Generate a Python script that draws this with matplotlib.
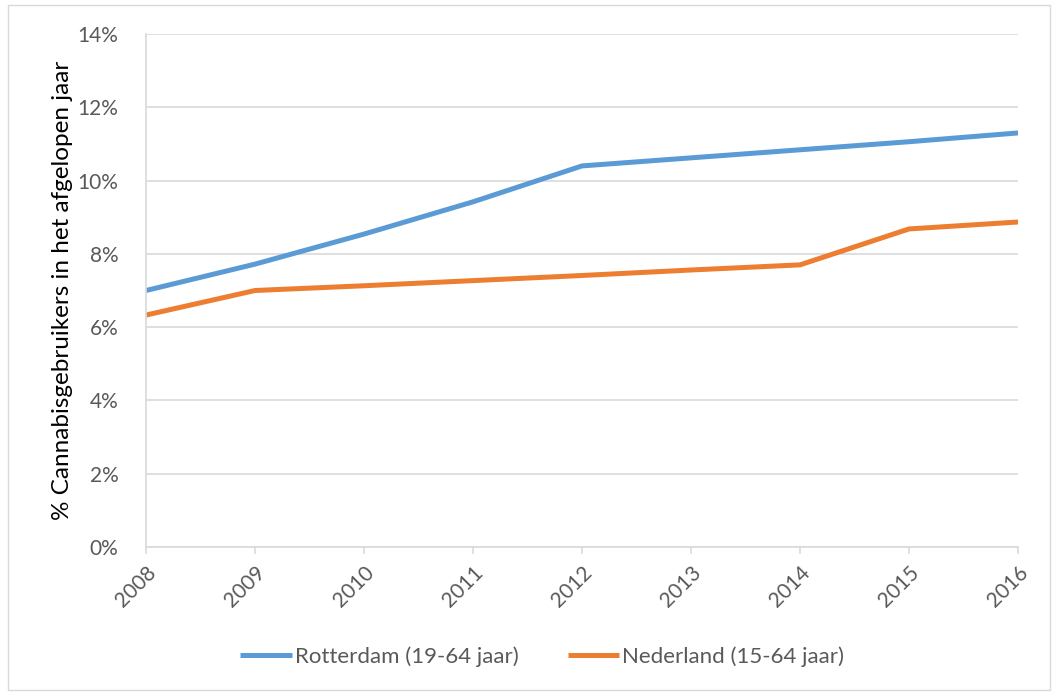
import matplotlib
matplotlib.use('Agg')
import matplotlib.pyplot as plt
from matplotlib.patches import Rectangle

plt.rcParams['font.family'] = ['Lato', 'DejaVu Sans']

years = ['2008', '2009', '2010', '2011', '2012', '2013', '2014', '2015', '2016']
rotterdam = [7.0, 7.72, 8.54, 9.42, 10.40, 10.62, 10.84, 11.06, 11.30]
nederland = [6.33, 7.0, 7.13, 7.27, 7.41, 7.56, 7.70, 8.68, 8.87]

grey_text = '#595959'
grid_col = '#d9d9d9'

fig = plt.figure(figsize=(10.59, 6.95), dpi=100)
ax = fig.add_axes([0.1379, 0.2129, 0.8234, 0.7382])

x = list(range(len(years)))
ax.plot(x, rotterdam, color='#5b9bd5', lw=3.6, label='Rotterdam (19-64 jaar)',
        solid_capstyle='butt')
ax.plot(x, nederland, color='#ed7d31', lw=3.6, label='Nederland (15-64 jaar)',
        solid_capstyle='butt')

ax.set_xlim(0, len(years) - 1)
ax.set_ylim(0, 14)
ax.set_yticks(range(0, 15, 2))
ax.set_yticklabels([f'{v}%' for v in range(0, 15, 2)])
ax.set_xticks(x)
ax.set_xticklabels(years, rotation=45, ha='right', va='top', rotation_mode='anchor')

ax.grid(axis='y', color=grid_col, lw=1.2)
ax.set_axisbelow(True)
for s in ['top', 'right']:
    ax.spines[s].set_visible(False)
ax.spines['left'].set_color(grid_col)
ax.spines['bottom'].set_color(grid_col)
ax.spines['left'].set_linewidth(1.2)
ax.spines['bottom'].set_linewidth(1.2)
ax.tick_params(axis='y', length=0, pad=20, labelsize=15, labelcolor=grey_text)
ax.tick_params(axis='x', length=5, width=1.2, color=grid_col, direction='out',
               pad=6, labelsize=15, labelcolor=grey_text)

ax.set_ylabel('% Cannabisgebruikers in het afgelopen jaar', fontsize=17.5,
              color='black', labelpad=3)

leg = fig.legend(loc='center', bbox_to_anchor=(0.512, 0.055), ncol=2, frameon=False,
                 fontsize=16, handlelength=2.3, handletextpad=0.15, columnspacing=2.2)
for t in leg.get_texts():
    t.set_color(grey_text)

fig.patches.append(Rectangle((8 / 1059, 5 / 695), 1042 / 1059, 685 / 695,
                             transform=fig.transFigure, fill=False,
                             edgecolor='#d9d9d9', lw=1))

fig.savefig('out.png', dpi=100)
